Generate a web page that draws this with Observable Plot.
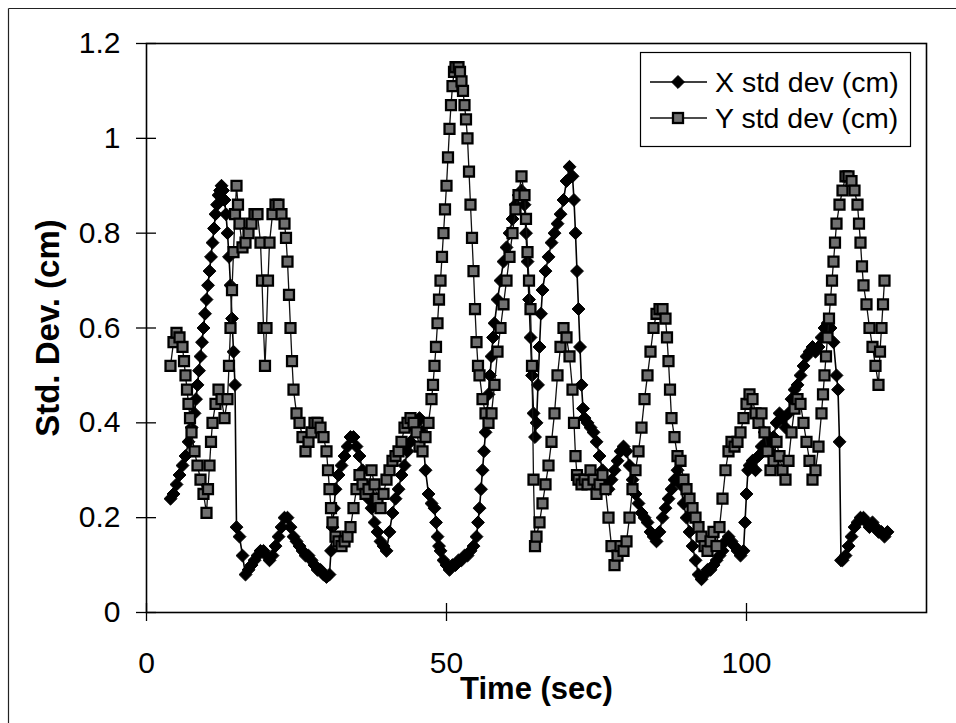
<!DOCTYPE html>
<html>
<head>
<meta charset="utf-8">
<script src="https://cdn.jsdelivr.net/npm/d3@7"></script>
<script src="https://cdn.jsdelivr.net/npm/@observablehq/plot@0.6"></script>
<style>
  html, body { margin: 0; padding: 0; background: #fff; }
  #chart svg { display: block; }
</style>
</head>
<body>
<div id="chart"></div>
<script>
// ---- data (time in sec, std dev in cm) ----
const xSeriesName = "X std dev (cm)";
const ySeriesName = "Y std dev (cm)";
const xTicks = [0, 50, 100];
const yTicks = [0, 0.2, 0.4, 0.6, 0.8, 1, 1.2];
const yTickLabels = ["0", "0.2", "0.4", "0.6", "0.8", "1", "1.2"];

const xStd = [[4,0.24],[4.5,0.25],[5,0.27],[5.5,0.29],[6,0.31],[6.5,0.33],[7,0.36],[7.5,0.39],[8,0.42],[8.25,0.45],[8.5,0.48],[8.75,0.51],[9,0.54],[9.25,0.57],[9.5,0.6],[9.75,0.63],[10,0.66],[10.25,0.69],[10.5,0.72],[10.75,0.75],[11,0.78],[11.25,0.81],[11.5,0.84],[11.75,0.86],[12,0.88],[12.25,0.89],[12.5,0.9],[12.75,0.89],[13,0.87],[13.25,0.84],[13.5,0.8],[13.75,0.75],[14,0.69],[14.25,0.62],[14.5,0.55],[14.75,0.48],[15,0.18],[15.5,0.16],[16,0.12],[16.5,0.08],[17,0.09],[17.5,0.1],[18,0.11],[18.5,0.12],[19,0.13],[19.5,0.13],[20,0.12],[20.5,0.11],[21,0.12],[21.5,0.14],[22,0.16],[22.5,0.18],[23,0.2],[23.5,0.2],[24,0.18],[24.5,0.16],[25,0.15],[25.5,0.14],[26,0.13],[26.5,0.12],[27,0.12],[27.5,0.11],[28,0.1],[28.5,0.09],[29,0.09],[29.5,0.08],[30,0.075],[30.5,0.08],[30.75,0.13],[31,0.18],[31.25,0.22],[31.5,0.26],[32,0.29],[32.5,0.31],[33,0.33],[33.5,0.35],[34,0.37],[34.5,0.37],[35,0.35],[35.5,0.33],[36,0.3],[36.5,0.27],[37,0.24],[37.5,0.22],[38,0.19],[38.5,0.17],[39,0.15],[39.5,0.14],[40,0.13],[40.5,0.17],[41,0.21],[41.5,0.24],[42,0.26],[42.5,0.29],[43,0.31],[43.5,0.34],[44,0.36],[44.5,0.39],[45,0.4],[45.5,0.41],[46,0.38],[46.5,0.3],[47,0.25],[47.5,0.23],[48,0.22],[48.25,0.19],[48.5,0.16],[48.75,0.14],[49,0.13],[49.5,0.11],[50,0.1],[50.5,0.09],[51,0.1],[51.5,0.1],[52,0.11],[52.5,0.11],[53,0.12],[53.5,0.12],[54,0.13],[54.5,0.14],[55,0.16],[55.25,0.19],[55.5,0.22],[55.75,0.26],[56,0.3],[56.25,0.34],[56.5,0.38],[56.75,0.42],[57,0.46],[57.25,0.5],[57.5,0.54],[57.75,0.58],[58,0.61],[58.5,0.66],[59,0.7],[59.5,0.74],[60,0.77],[60.5,0.8],[61,0.83],[61.5,0.86],[62,0.88],[62.5,0.89],[63,0.86],[63.25,0.8],[63.5,0.74],[63.75,0.66],[64,0.58],[64.25,0.5],[64.5,0.42],[64.75,0.37],[65,0.4],[65.25,0.48],[65.5,0.56],[65.75,0.63],[66,0.68],[66.5,0.72],[67,0.75],[67.5,0.78],[68,0.8],[68.5,0.82],[69,0.84],[69.5,0.87],[70,0.91],[70.5,0.94],[71,0.92],[71.25,0.87],[71.5,0.8],[71.75,0.72],[72,0.64],[72.25,0.56],[72.5,0.48],[72.75,0.43],[73,0.41],[73.5,0.4],[74,0.39],[74.5,0.38],[75,0.36],[75.5,0.33],[76,0.3],[76.5,0.27],[77,0.26],[77.5,0.28],[78,0.3],[78.5,0.32],[79,0.34],[79.5,0.35],[80,0.34],[80.5,0.31],[81,0.28],[81.5,0.25],[82,0.23],[82.5,0.21],[83,0.2],[83.5,0.19],[84,0.17],[84.5,0.16],[85,0.15],[85.5,0.17],[86,0.2],[86.5,0.22],[87,0.24],[87.5,0.26],[88,0.28],[88.5,0.3],[89,0.27],[89.5,0.23],[90,0.2],[90.5,0.17],[91,0.14],[91.5,0.11],[92,0.08],[92.5,0.07],[93,0.08],[93.5,0.09],[94,0.09],[94.5,0.1],[95,0.11],[95.5,0.12],[96,0.13],[96.5,0.15],[97,0.16],[97.5,0.15],[98,0.14],[98.5,0.13],[99,0.12],[99.5,0.13],[99.75,0.19],[100,0.25],[100.25,0.3],[100.5,0.31],[101,0.32],[101.5,0.3],[102,0.33],[102.5,0.35],[103,0.38],[103.5,0.36],[104,0.34],[104.5,0.37],[105,0.4],[105.5,0.42],[106,0.41],[106.5,0.39],[107,0.42],[107.5,0.45],[108,0.47],[108.5,0.48],[109,0.5],[109.5,0.52],[110,0.54],[110.5,0.55],[111,0.56],[111.5,0.55],[112,0.56],[112.5,0.58],[113,0.6],[113.5,0.61],[114,0.6],[114.5,0.57],[115,0.5],[115.25,0.47],[115.5,0.36],[115.75,0.11],[116,0.11],[116.5,0.12],[117,0.14],[117.5,0.16],[118,0.18],[118.5,0.19],[119,0.2],[119.5,0.2],[120,0.19],[120.5,0.18],[121,0.19],[121.5,0.18],[122,0.17],[122.5,0.17],[123,0.16],[123.5,0.17]];

const yStd = [[4,0.52],[4.5,0.57],[5,0.59],[5.5,0.58],[6,0.56],[6.25,0.53],[6.5,0.5],[6.75,0.47],[7,0.44],[7.25,0.41],[7.5,0.38],[8,0.34],[8.5,0.31],[9,0.28],[9.5,0.25],[10,0.21],[10.25,0.26],[10.5,0.31],[10.75,0.36],[11,0.4],[11.5,0.44],[12,0.47],[12.5,0.45],[13,0.41],[13.5,0.45],[13.75,0.52],[14,0.6],[14.25,0.68],[14.5,0.76],[14.75,0.84],[15,0.9],[15.25,0.86],[15.5,0.82],[16,0.77],[16.5,0.78],[17,0.8],[17.5,0.82],[18,0.84],[18.5,0.84],[19,0.78],[19.25,0.7],[19.5,0.6],[19.75,0.52],[20,0.6],[20.25,0.7],[20.5,0.78],[21,0.84],[21.5,0.86],[22,0.86],[22.5,0.84],[23,0.82],[23.25,0.79],[23.5,0.74],[23.75,0.67],[24,0.6],[24.25,0.53],[24.5,0.47],[25,0.42],[25.5,0.4],[26,0.37],[26.5,0.34],[27,0.36],[27.5,0.38],[28,0.4],[28.5,0.4],[29,0.39],[29.5,0.37],[30,0.34],[30.25,0.3],[30.5,0.26],[30.75,0.22],[31,0.19],[31.5,0.16],[32,0.15],[32.5,0.14],[33,0.15],[33.5,0.16],[34,0.18],[34.5,0.22],[35,0.26],[35.5,0.29],[36,0.27],[36.5,0.25],[37,0.26],[37.5,0.3],[38,0.27],[38.5,0.24],[39,0.22],[39.5,0.25],[40,0.28],[40.5,0.3],[41,0.32],[41.5,0.33],[42,0.34],[42.5,0.36],[43,0.39],[43.5,0.4],[44,0.41],[44.5,0.4],[45,0.38],[45.5,0.35],[46,0.34],[46.5,0.37],[47,0.4],[47.5,0.45],[47.75,0.48],[48,0.52],[48.25,0.56],[48.5,0.61],[48.75,0.66],[49,0.7],[49.25,0.75],[49.5,0.8],[49.75,0.85],[50,0.9],[50.25,0.96],[50.5,1.02],[50.75,1.07],[51,1.11],[51.25,1.14],[51.5,1.15],[52,1.15],[52.25,1.14],[52.5,1.12],[52.75,1.1],[53,1.07],[53.25,1.04],[53.5,1.0],[53.75,0.93],[54,0.86],[54.25,0.79],[54.5,0.72],[54.75,0.64],[55,0.57],[55.25,0.52],[55.5,0.5],[56,0.45],[56.5,0.42],[57,0.4],[57.5,0.42],[58,0.48],[58.5,0.55],[59,0.6],[59.5,0.65],[60,0.7],[60.5,0.75],[61,0.8],[61.5,0.85],[62,0.88],[62.5,0.92],[63,0.88],[63.25,0.83],[63.5,0.76],[63.75,0.7],[64,0.64],[64.25,0.52],[64.5,0.28],[64.75,0.14],[65,0.16],[65.5,0.19],[66,0.23],[66.5,0.27],[67,0.31],[67.5,0.36],[68,0.42],[68.5,0.5],[69,0.56],[69.5,0.6],[70,0.58],[70.5,0.54],[71,0.47],[71.25,0.4],[71.5,0.33],[71.75,0.29],[72,0.28],[72.5,0.27],[73,0.28],[73.5,0.27],[74,0.3],[74.5,0.28],[75,0.25],[75.5,0.27],[76,0.29],[76.5,0.26],[77,0.2],[77.5,0.14],[78,0.1],[78.5,0.12],[79,0.14],[79.5,0.13],[80,0.15],[80.5,0.2],[81,0.26],[81.5,0.3],[82,0.34],[82.5,0.39],[83,0.45],[83.5,0.5],[84,0.55],[84.5,0.6],[85,0.63],[85.5,0.64],[86,0.64],[86.5,0.62],[86.75,0.58],[87,0.53],[87.25,0.47],[87.5,0.41],[88,0.37],[88.5,0.33],[89,0.32],[89.5,0.28],[90,0.26],[90.5,0.24],[91,0.22],[91.5,0.2],[92,0.18],[92.5,0.16],[93,0.14],[93.5,0.13],[94,0.15],[94.5,0.17],[95,0.14],[95.5,0.18],[96,0.24],[96.5,0.3],[97,0.34],[97.5,0.36],[98,0.35],[98.5,0.36],[99,0.38],[99.5,0.41],[100,0.44],[100.5,0.46],[101,0.45],[101.5,0.42],[102,0.4],[102.5,0.42],[103,0.38],[103.5,0.34],[104,0.3],[104.5,0.32],[105,0.36],[105.5,0.33],[106,0.3],[106.5,0.28],[107,0.32],[107.5,0.38],[108,0.43],[108.5,0.45],[109,0.44],[109.5,0.4],[110,0.36],[110.5,0.32],[111,0.28],[111.5,0.3],[112,0.35],[112.5,0.42],[112.75,0.46],[113,0.5],[113.25,0.54],[113.5,0.58],[113.75,0.62],[114,0.66],[114.25,0.7],[114.5,0.74],[114.75,0.78],[115,0.82],[115.5,0.86],[116,0.89],[116.5,0.92],[117,0.92],[117.5,0.91],[118,0.89],[118.5,0.86],[118.75,0.82],[119,0.78],[119.25,0.73],[119.5,0.69],[120,0.65],[120.5,0.6],[121,0.56],[121.5,0.52],[122,0.48],[122.25,0.55],[122.5,0.6],[122.75,0.65],[123,0.7]];

// ---- layout ----
const W = 956, H = 723;
const mL = 146, mR = 30, mT = 43, mB = 111;
const plotW = W - mL - mR, plotH = H - mT - mB;
const font = "Arial, 'Liberation Sans', Helvetica, sans-serif";
const squareFill = "#707070";

const xData = xStd.map(([t, v]) => ({t, v}));
const yData = yStd.map(([t, v]) => ({t, v}));

const chart = Plot.plot({
  width: W, height: H,
  marginLeft: mL, marginRight: mR, marginTop: mT, marginBottom: mB,
  style: {fontFamily: font, background: "#fff", color: "#000", overflow: "visible"},
  x: {domain: [0, 130]},
  y: {domain: [0, 1.2]},
  marks: [
    Plot.axisX({ticks: xTicks, tickSize: 0, tickPadding: 39, fontSize: 30, label: null, tickFormat: d => String(d)}),
    Plot.axisY({ticks: yTicks, tickSize: 0, tickPadding: 26, fontSize: 30, label: null,
      tickFormat: d => yTickLabels[yTicks.indexOf(d)]}),
    Plot.tickX(xTicks, {x: d => d, insetTop: plotH - 9, insetBottom: -9, stroke: "#000", strokeWidth: 1.3}),
    Plot.tickY(yTicks, {y: d => d, insetLeft: -10, insetRight: plotW - 10, stroke: "#000", strokeWidth: 1.3}),
    Plot.frame({stroke: "#000", strokeWidth: 1.6}),
    // X series
    Plot.line(xData, {x: "t", y: "v", stroke: "#000", strokeWidth: 1.6}),
    Plot.dot(xData, {x: "t", y: "v", symbol: "diamond2", r: 5.8, fill: "#000", stroke: "#000", strokeWidth: 1}),
    // Y series
    Plot.line(yData, {x: "t", y: "v", stroke: "#111", strokeWidth: 1.3}),
    Plot.dot(yData, {x: "t", y: "v", symbol: "square", r: 5.6, fill: squareFill, stroke: "#000", strokeWidth: 2.3}),
    // axis titles
    Plot.text(["Std. Dev. (cm)"], {frameAnchor: "left", dx: -98, rotate: -90, fontSize: 33, fontWeight: "bold", textAnchor: "middle", lineAnchor: "middle", fill: "#000"}),
    Plot.text(["Time (sec)"], {frameAnchor: "bottom", dy: 77, fontSize: 31, fontWeight: "bold", textAnchor: "middle", lineAnchor: "middle", fill: "#000"})
  ]
});

// outer chart border (left & top visible)
const svg = d3.select(chart);
svg.append("line").attr("x1", 8.5).attr("y1", 8.5).attr("x2", W).attr("y2", 8.5).attr("stroke", "#222").attr("stroke-width", 1.2);
svg.append("line").attr("x1", 8.5).attr("y1", 8.5).attr("x2", 8.5).attr("y2", H).attr("stroke", "#222").attr("stroke-width", 1.2);

// legend
const lg = svg.append("g").attr("font-family", font).attr("text-anchor", "start");
lg.append("rect").attr("x", 640.5).attr("y", 52.5).attr("width", 270).attr("height", 94)
  .attr("fill", "#fff").attr("stroke", "#000").attr("stroke-width", 1.2);
const rows = [
  {name: xSeriesName, y: 82, kind: "x"},
  {name: ySeriesName, y: 118, kind: "y"}
];
for (const r of rows) {
  lg.append("line").attr("x1", 650).attr("x2", 707).attr("y1", r.y).attr("y2", r.y)
    .attr("stroke", r.kind === "x" ? "#000" : "#111").attr("stroke-width", r.kind === "x" ? 1.6 : 1.3);
  if (r.kind === "x") {
    lg.append("path").attr("d", d3.symbol(d3.symbolDiamond2, Math.PI * 5.8 * 5.8)()).attr("transform", `translate(678,${r.y})`)
      .attr("fill", "#000").attr("stroke", "#000");
  } else {
    lg.append("rect").attr("x", 673).attr("y", r.y - 5).attr("width", 10).attr("height", 10)
      .attr("fill", squareFill).attr("stroke", "#000").attr("stroke-width", 2.3);
  }
  lg.append("text").attr("x", 715).attr("y", r.y + 10).attr("font-size", 28.5).attr("fill", "#000").text(r.name);
}

document.getElementById("chart").appendChild(chart);
</script>
</body>
</html>
